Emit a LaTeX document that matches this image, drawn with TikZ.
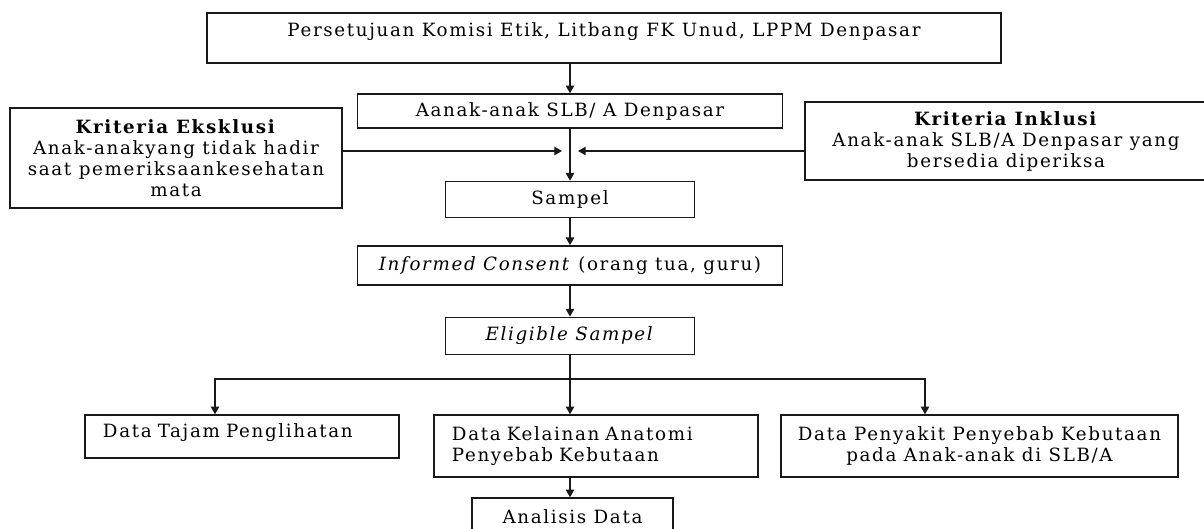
\documentclass[tikz,border=0pt]{standalone}
\usepackage{fontspec}
\setmainfont{DejaVu Serif}[LetterSpace=9]
\usetikzlibrary{arrows.meta, positioning}
\definecolor{flowline}{RGB}{25,25,25}

\begin{document}
\begin{tikzpicture}[
    x=0.025cm, y=-0.025cm,
    box/.style={rectangle, draw=flowline, line width=1pt, fill=white,
                inner sep=2pt, align=center,
                font=\fontsize{13}{14.9}\selectfont},
    arrow/.style={-{Triangle[length=5.5pt,width=6pt]}, line width=1pt, flowline},
    link/.style={line width=1pt, flowline},
    node distance=1.3cm
]
\useasboundingbox (0,0) rectangle (1204,528);
\node[box, minimum width=19.85cm, minimum height=1.25cm, text depth=0.43cm] (etik) at (604,38)
    {Persetujuan Komisi Etik, Litbang FK Unud, LPPM Denpasar};
\node[box, minimum width=10.625cm, minimum height=0.85cm] (slb) at (570,111) {Aanak-anak SLB/ A Denpasar};
\node[box, minimum width=6.225cm, minimum height=0.9cm, below=1.3cm of slb] (sampel) {Sampel};
\node[box, minimum width=10.625cm, minimum height=0.975cm, below=0.675cm of sampel] (ic)
    {\textit{Informed Consent} (orang tua, guru)};
\node[box, minimum width=6.225cm, minimum height=0.925cm, below=0.775cm of ic] (elig) {\textit{Eligible Sampel}};
\node[box, minimum width=8.3cm, minimum height=2.5cm] (ekskl) at (176,158)
    {\textbf{Kriteria Eksklusi}\\Anak-anakyang tidak hadir\\saat pemeriksaankesehatan\\mata};
\node[box, minimum width=10.05cm, minimum height=1.95cm] (inkl) at (1006,141)
    {\textbf{Kriteria Inklusi}\\Anak-anak SLB/A Denpasar yang\\bersedia diperiksa};
\node[box, text width=6.95cm, inner xsep=0.45cm, align=left, minimum height=1.075cm, text depth=0.3cm] (tajam) at (242,436.5)
    {Data Tajam Penglihatan};
\node[box, text width=7.2cm, inner xsep=0.45cm, align=left, minimum height=1.55cm] (anat) at (596,446)
    {Data Kelainan Anatomi\\Penyebab Kebutaan};
\node[box, minimum width=9.925cm, minimum height=1.55cm] (penyakit) at (979.5,446)
    {Data Penyakit Penyebab Kebutaan\\pada Anak-anak di SLB/A};
\node[box, minimum width=5.025cm, minimum height=0.925cm] (analisis) at (572.5,516.5) {Analisis Data};

\coordinate (spine) at (570,0);
\coordinate (joinL) at (562,151);
\coordinate (joinR) at (578,151);
\coordinate (split) at (570,379);
\coordinate (dropL) at (215,379);
\coordinate (dropR) at (925,379);

\draw[arrow] (etik.south -| spine) -- (slb.north -| spine);
\draw[arrow] (slb.south -| spine) -- (sampel.north -| spine);
\draw[arrow] (ekskl.east |- joinL) -- (joinL);
\draw[arrow] (inkl.west |- joinR) -- (joinR);
\draw[arrow] (sampel.south -| spine) -- (ic.north -| spine);
\draw[arrow] (ic.south -| spine) -- (elig.north -| spine);
\draw[link] (elig.south -| spine) -- (split);
\draw[arrow] (split) -- (dropL) -- (dropL |- tajam.north);
\draw[arrow] (split) -- (anat.north -| spine);
\draw[arrow] (split) -- (dropR) -- (dropR |- penyakit.north);
\draw[arrow] (anat.south -| spine) -- (analisis.north -| spine);
\end{tikzpicture}
\end{document}
